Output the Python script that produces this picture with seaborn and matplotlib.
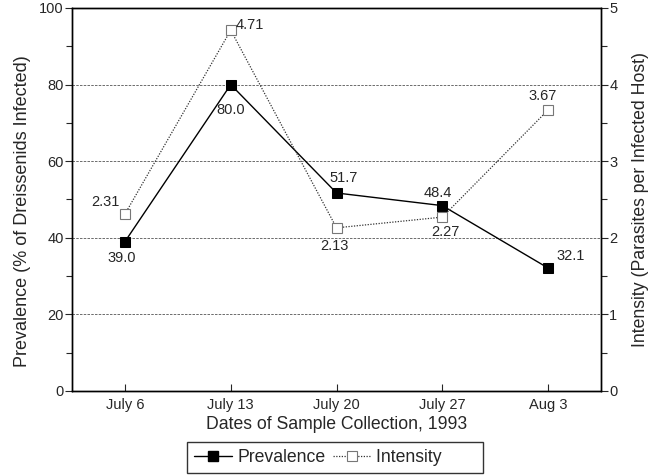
import pandas as pd
import seaborn as sns
import matplotlib.pyplot as plt
from matplotlib.ticker import MultipleLocator
from matplotlib.lines import Line2D

# data
dates = ["July 6", "July 13", "July 20", "July 27", "Aug 3"]
prevalence = [39.0, 80.0, 51.7, 48.4, 32.1]
intensity = [2.31, 4.71, 2.13, 2.27, 3.67]

# label offsets (points) for the value annotations
prev_off = [(-2, -11.5), (0, -18), (5, 11), (-3, 9), (16, 9)]
int_off = [(-14, 9), (14, 4), (-1.5, -13), (2, -11), (-4, 10)]

df = pd.DataFrame({"date": dates, "prevalence": prevalence, "intensity": intensity})

sns.set_style("ticks")
plt.rcParams["font.family"] = ["Liberation Sans", "DejaVu Sans"]

fig = plt.figure(figsize=(6.55, 4.76), dpi=100)
ax = fig.add_axes([0.11, 0.1786, 0.8076, 0.8046])
ax2 = ax.twinx()

sns.lineplot(data=df, x="date", y="prevalence", ax=ax, color="black", lw=1.0,
             marker="s", markersize=7, markerfacecolor="black",
             markeredgecolor="black", sort=False, zorder=4)
sns.lineplot(data=df, x="date", y="intensity", ax=ax2, color="#333333", lw=0.9,
             linestyle=(0, (1, 1.2)), marker="s", markersize=7,
             markerfacecolor="white", markeredgecolor="#777777",
             markeredgewidth=0.8, sort=False, zorder=3)

ax.set_xlim(-0.5, 4.5)
ax.set_ylim(0, 100)
ax2.set_ylim(0, 5)

ax.yaxis.set_major_locator(MultipleLocator(20))
ax.yaxis.set_minor_locator(MultipleLocator(10))
ax2.yaxis.set_major_locator(MultipleLocator(1))
ax2.yaxis.set_minor_locator(MultipleLocator(0.5))

for a in (ax, ax2):
    for s in a.spines.values():
        s.set_visible(True)
        s.set_linewidth(1.0)
        s.set_color("black")
    a.tick_params(axis="y", which="major", length=5, width=0.8, labelsize=10.5, pad=1)
    a.tick_params(axis="y", which="minor", length=4, width=0.8)

ax.tick_params(axis="x", direction="in", length=5, width=0.8, labelsize=10.5, pad=5)

ax.yaxis.grid(True, which="major", color="#555555", linestyle=(0, (3, 1.5)), lw=0.6)
ax.set_axisbelow(True)

ax.set_xlabel("Dates of Sample Collection, 1993", fontsize=12.7, labelpad=3)
ax.set_ylabel("Prevalence (% of Dreissenids Infected)", fontsize=13)
ax.yaxis.set_label_coords(-0.078, 0.47)
ax2.set_ylabel("Intensity (Parasites per Infected Host)", fontsize=12.7, labelpad=10)

for i, v in enumerate(prevalence):
    ax.annotate(f"{v:.1f}", (i, v), xytext=prev_off[i], textcoords="offset points",
                ha="center", va="center", fontsize=10.5)
for i, v in enumerate(intensity):
    ax2.annotate(f"{v:.2f}", (i, v), xytext=int_off[i], textcoords="offset points",
                 ha="center", va="center", fontsize=10.5)

handles = [
    Line2D([], [], color="black", lw=1.0, marker="s", markersize=7,
           markerfacecolor="black"),
    Line2D([], [], color="#333333", lw=0.9, linestyle=(0, (1, 1.2)), marker="s",
           markersize=7, markerfacecolor="white", markeredgecolor="#777777",
           markeredgewidth=0.8),
]
leg = fig.legend(handles, ["Prevalence", "Intensity       "], loc="center",
                 bbox_to_anchor=(0.5115, 0.0389), ncol=2, fontsize=12.7,
                 frameon=True, fancybox=False, edgecolor="black",
                 borderpad=0.4, handlelength=2.15, handletextpad=0.3,
                 columnspacing=0.45, borderaxespad=0)
leg.get_frame().set_linewidth(1.0)

fig.savefig("out.png", dpi=100)
